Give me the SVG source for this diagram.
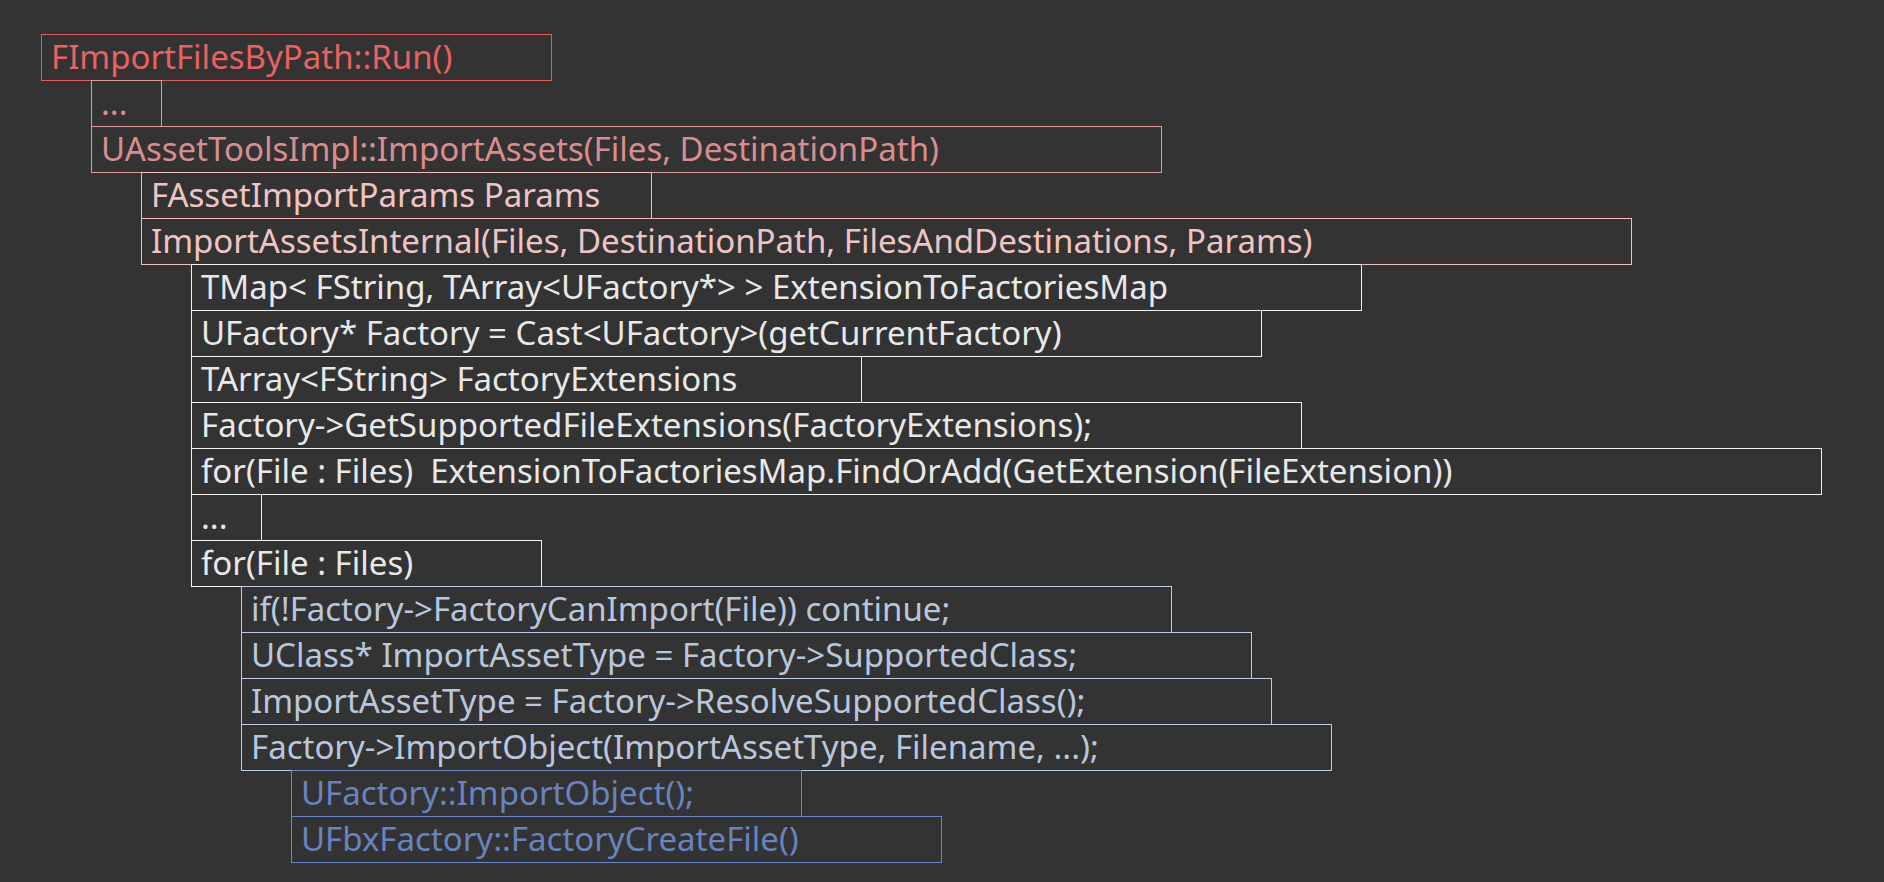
<svg xmlns="http://www.w3.org/2000/svg" width="1884" height="882" viewBox="0 0 1884 882">
<style>
rect.b{fill:none;stroke-width:1}
text{font-family:"Noto Sans","Open Sans","DejaVu Sans",sans-serif;font-size:33px;white-space:pre}
.c0 rect{stroke:#e25a5a}.c0 text{fill:#ec6060}
.c1 rect{stroke:#e29a9a}.c1 text{fill:#d88e8e}
.c2 rect{stroke:#f6bcbc}.c2 text{fill:#f0c4c4}
.c3 rect{stroke:#f2f2f2}.c3 text{fill:#e8e8e8}
.c4 rect{stroke:#bccbe6}.c4 text{fill:#b8c7de}
.c5 rect{stroke:#6a88cc}.c5 text{fill:#6784c0}
</style>
<rect width="1884" height="882" fill="#333333"/>
<g id="connectors"/>
<g id="n0" class="c0"><rect class="b" x="41.5" y="34.5" width="510" height="46"/><text x="51" y="68.5">FImportFilesByPath::Run()</text></g>
<g id="n1" class="c1"><rect class="b" x="91.5" y="80.5" width="70" height="46"/><text x="101" y="114.5">...</text></g>
<g id="n2" class="c1"><rect class="b" x="91.5" y="126.5" width="1070" height="46"/><text x="101" y="160.5">UAssetToolsImpl::ImportAssets(Files, DestinationPath)</text></g>
<g id="n3" class="c2"><rect class="b" x="141.5" y="172.5" width="510" height="46"/><text x="151" y="206.5">FAssetImportParams Params</text></g>
<g id="n4" class="c2"><rect class="b" x="141.5" y="218.5" width="1490" height="46"/><text x="151" y="252.5">ImportAssetsInternal(Files, DestinationPath, FilesAndDestinations, Params)</text></g>
<g id="n5" class="c3"><rect class="b" x="191.5" y="264.5" width="1170" height="46"/><text x="201" y="298.5">TMap&lt; FString, TArray&lt;UFactory*&gt; &gt; ExtensionToFactoriesMap</text></g>
<g id="n6" class="c3"><rect class="b" x="191.5" y="310.5" width="1070" height="46"/><text x="201" y="344.5">UFactory* Factory = Cast&lt;UFactory&gt;(getCurrentFactory)</text></g>
<g id="n7" class="c3"><rect class="b" x="191.5" y="356.5" width="670" height="46"/><text x="201" y="390.5">TArray&lt;FString&gt; FactoryExtensions</text></g>
<g id="n8" class="c3"><rect class="b" x="191.5" y="402.5" width="1110" height="46"/><text x="201" y="436.5">Factory-&gt;GetSupportedFileExtensions(FactoryExtensions);</text></g>
<g id="n9" class="c3"><rect class="b" x="191.5" y="448.5" width="1630" height="46"/><text x="201" y="482.5">for(File : Files)  ExtensionToFactoriesMap.FindOrAdd(GetExtension(FileExtension))</text></g>
<g id="n10" class="c3"><rect class="b" x="191.5" y="494.5" width="70" height="46"/><text x="201" y="528.5">...</text></g>
<g id="n11" class="c3"><rect class="b" x="191.5" y="540.5" width="350" height="46"/><text x="201" y="574.5">for(File : Files)</text></g>
<g id="n12" class="c4"><rect class="b" x="241.5" y="586.5" width="930" height="46"/><text x="251" y="620.5">if(!Factory-&gt;FactoryCanImport(File)) continue;</text></g>
<g id="n13" class="c4"><rect class="b" x="241.5" y="632.5" width="1010" height="46"/><text x="251" y="666.5">UClass* ImportAssetType = Factory-&gt;SupportedClass;</text></g>
<g id="n14" class="c4"><rect class="b" x="241.5" y="678.5" width="1030" height="46"/><text x="251" y="712.5">ImportAssetType = Factory-&gt;ResolveSupportedClass();</text></g>
<g id="n15" class="c4"><rect class="b" x="241.5" y="724.5" width="1090" height="46"/><text x="251" y="758.5">Factory-&gt;ImportObject(ImportAssetType, Filename, ...);</text></g>
<g id="n16" class="c5"><rect class="b" x="291.5" y="770.5" width="510" height="46"/><text x="301" y="804.5">UFactory::ImportObject();</text></g>
<g id="n17" class="c5"><rect class="b" x="291.5" y="816.5" width="650" height="46"/><text x="301" y="850.5">UFbxFactory::FactoryCreateFile()</text></g>
</svg>
